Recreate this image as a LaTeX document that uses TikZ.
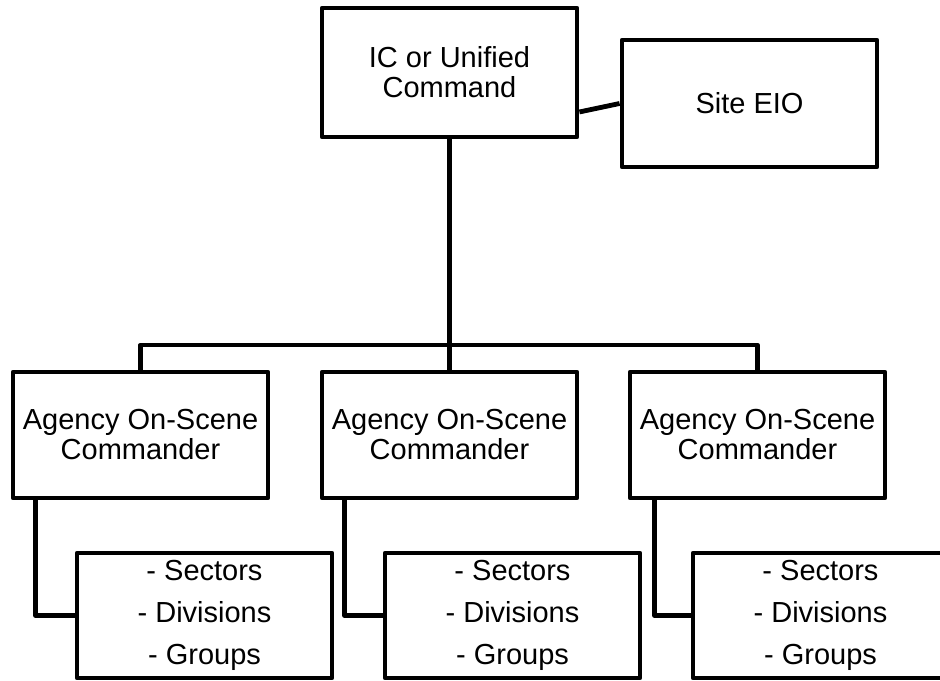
\documentclass[tikz,border=0pt]{standalone}
\usepackage{fontspec}
\setmainfont{Liberation Sans}
\begin{document}
\begin{tikzpicture}[x=0.75pt,y=-0.75pt,
  box/.style={draw,line width=3.6pt,line join=round,inner sep=0pt,align=center,
    minimum width=191.25pt,font=\fontsize{21.75}{22.5}\selectfont},
  subbox/.style={box,font=\fontsize{21.75}{31.5}\selectfont,minimum height=93.75pt},
  agbox/.style={box,minimum height=94.5pt},
  link/.style={line width=3.6pt,line join=round}]
\useasboundingbox (0,0) rectangle (940,681);
\clip (0,0) rectangle (940,681);
\node[box,minimum height=96.75pt] (top) at (449.5,72.5) {IC or Unified\\Command};
\node[box,minimum height=95.25pt] (site) at (749.5,103.5) {Site EIO};
\node[agbox] (a1) at (140.5,435) {Agency On-Scene\\Commander};
\node[agbox] (a2) at (449.5,435) {Agency On-Scene\\Commander};
\node[agbox] (a3) at (757.5,435) {Agency On-Scene\\Commander};
\node[subbox] (s1) at (204.5,615.5) {- Sectors\\- Divisions\\- Groups};
\node[subbox] (s2) at (512.5,615.5) {- Sectors\\- Divisions\\- Groups};
\node[subbox] (s3) at (820.5,615.5) {- Sectors\\- Divisions\\- Groups};
\coordinate (bus) at (449.5,345);
\draw[link] ([yshift=-29.6pt]top.east) -- (site.west);
\draw[link] (top.south) -- (bus);
\draw[link] (a1.north) |- (bus) -| (a3.north);
\draw[link] (bus) -- (a2.north);
\draw[link] ([xshift=18.75pt]a1.south west) |- (s1.west);
\draw[link] ([xshift=18.75pt]a2.south west) |- (s2.west);
\draw[link] ([xshift=20.25pt]a3.south west) |- (s3.west);
\end{tikzpicture}
\end{document}
